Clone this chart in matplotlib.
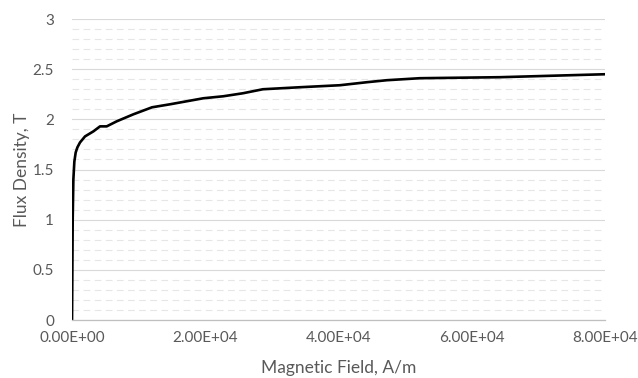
import matplotlib
matplotlib.use("Agg")
import matplotlib.pyplot as plt
import numpy as np
from matplotlib.ticker import MultipleLocator, FuncFormatter

# B-H curve
H = [0, 100, 200, 350, 550, 800, 1200, 1950, 3200, 4200, 5200, 6700, 9200,
     12000, 14700, 19700, 22700, 25650, 28650, 34200, 40200, 44250, 47250,
     52200, 64200, 80250]
B = [0, 1.0, 1.40, 1.58, 1.67, 1.72, 1.77, 1.83, 1.88, 1.93, 1.93, 1.98,
     2.05, 2.12, 2.15, 2.21, 2.23, 2.26, 2.30, 2.32, 2.34, 2.37, 2.39,
     2.41, 2.42, 2.45]

plt.rcParams['font.family'] = ['Lato', 'DejaVu Sans']
txt = '#595959'

fig = plt.figure(figsize=(6.38, 3.78), dpi=100)
ax = fig.add_axes([0.1129, 0.1534, 0.8354, 0.7963])

ax.plot(H, B, color='black', linewidth=1.9, solid_capstyle='butt',
        solid_joinstyle='round')

ax.set_xlim(0, 80000)
ax.set_ylim(0, 3)
ax.xaxis.set_major_locator(MultipleLocator(20000))
ax.xaxis.set_major_formatter(FuncFormatter(lambda v, p: f"{v:.2E}"))
ax.yaxis.set_major_locator(MultipleLocator(0.5))
ax.yaxis.set_minor_locator(MultipleLocator(0.1))
ax.yaxis.set_major_formatter(FuncFormatter(lambda v, p: f"{v:g}"))

ax.grid(axis='y', which='major', color='#d9d9d9', linewidth=0.8, linestyle='-')
ax.grid(axis='y', which='minor', color='#e6e6e6', linewidth=0.8, linestyle=(0, (6, 4)))
ax.set_axisbelow(True)

for s in ['top', 'right', 'left']:
    ax.spines[s].set_visible(False)
ax.spines['bottom'].set_color('#bfbfbf')
ax.spines['bottom'].set_linewidth(0.9)

ax.tick_params(axis='both', which='both', length=0, labelsize=11, labelcolor=txt)
ax.tick_params(axis='y', pad=13)
ax.tick_params(axis='x', pad=8)

ax.set_xlabel("Magnetic Field, A/m", fontsize=12.5, color=txt, labelpad=11)
ax.set_ylabel("Flux Density, T", fontsize=12.5, color=txt, labelpad=2)

fig.savefig("out.png", dpi=100)
